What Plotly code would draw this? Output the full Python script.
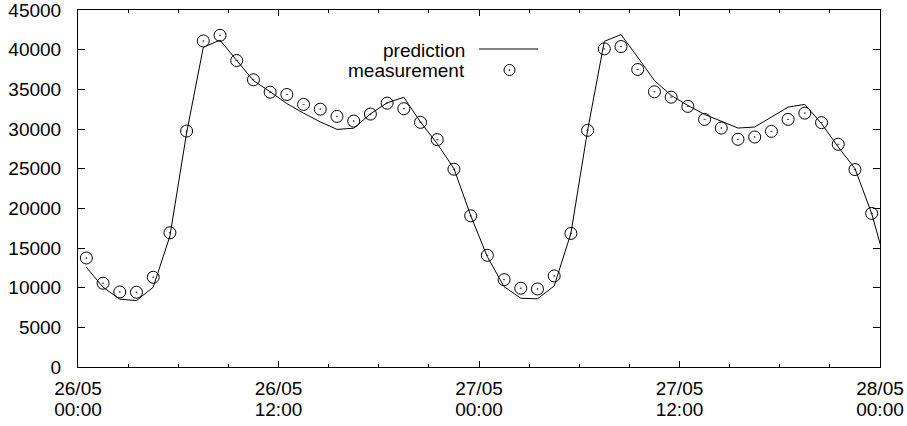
import pandas as pd
import plotly.graph_objects as go

# Hourly load, sampled at the half hour, 26/05 00:30 .. 27/05 23:30
measurement = [
    13740, 10560, 9460, 9430, 11310, 16920, 29740, 41100, 41810, 38630, 36200, 34640,
    34350, 33100, 32500, 31590, 31000, 31880, 33260, 32560, 30840, 28660, 24930, 19060,
    14080, 11010, 9930, 9840, 11480, 16840, 29830, 40100, 40390, 37500, 34690, 34010,
    32850, 31210, 30120, 28700, 28990, 29700, 31210, 32000, 30800, 28070, 24890, 19360,
]

# Model output on the same half-hour grid, one extra step past the window
prediction = [
    12570, 10060, 8550, 8370, 10060, 16500, 29500, 40300, 41200, 38700, 36100, 34700,
    33200, 32000, 30900, 29950, 30100, 31900, 33300, 34000, 30870, 28160, 25010, 19100,
    13900, 10130, 8670, 8590, 10220, 16840, 29830, 41050, 41900, 39040, 36110, 34230,
    32970, 31840, 31000, 30120, 30250, 31500, 32760, 33100, 30670, 27730, 25010, 19360,
    11800,
]

y_ticks = [0, 5000, 10000, 15000, 20000, 25000, 30000, 35000, 40000, 45000]
series_names = ["prediction", "measurement"]

t_meas = pd.date_range("2010-05-26 00:30", periods=len(measurement), freq="h")
t_pred = pd.date_range("2010-05-26 00:30", periods=len(prediction), freq="h")

X_RANGE = ["2010-05-26 00:00", "2010-05-28 00:00"]
DTICK = 12 * 3600 * 1000

FONT = "Liberation Sans, Arial, Helvetica, sans-serif"
FS = 19

fig = go.Figure()
fig.add_trace(go.Scatter(
    x=t_pred, y=prediction, mode="lines", name=series_names[0],
    line=dict(color="black", width=1), showlegend=False,
))
fig.add_trace(go.Scatter(
    x=t_meas, y=measurement, mode="markers", name=series_names[1],
    marker=dict(symbol="circle-open-dot", size=12, color="black",
                line=dict(color="black", width=1)),
    showlegend=False,
))
# empty trace so the second (time-of-day) x axis gets drawn
fig.add_trace(go.Scatter(x=[], y=[], xaxis="x2", yaxis="y", showlegend=False,
                         hoverinfo="skip"))

L, R, T, B = 78, 27, 10, 59
W, H = 907, 426
pw, ph = W - L - R, H - T - B


def px(x):
    return (x - L) / pw


def py(y):
    return (H - B - y) / ph


# key drawn in gnuplot style: text on the left, sample on the right
annotations = [
    dict(text=series_names[0], x=px(467), y=py(50), xref="paper", yref="paper",
         xanchor="right", yanchor="middle", showarrow=False,
         font=dict(family=FONT, size=FS, color="black")),
    dict(text=series_names[1], x=px(467), y=py(71), xref="paper", yref="paper",
         xanchor="right", yanchor="middle", showarrow=False,
         font=dict(family=FONT, size=FS, color="black")),
]
shapes = [
    dict(type="line", xref="paper", yref="paper", x0=px(479), x1=px(538),
         y0=py(49), y1=py(49), line=dict(color="black", width=1)),
    dict(type="circle", xref="paper", yref="paper", xsizemode="pixel", ysizemode="pixel",
         xanchor=px(509.5), yanchor=py(70), x0=-5.5, x1=5.5, y0=-5.5, y1=5.5,
         line=dict(color="black", width=1)),
    dict(type="circle", xref="paper", yref="paper", xsizemode="pixel", ysizemode="pixel",
         xanchor=px(509.5), yanchor=py(70), x0=-0.6, x1=0.6, y0=-0.6, y1=0.6,
         line=dict(color="black", width=0.6), fillcolor="black"),
]

tickfont = dict(family=FONT, size=FS, color="black")

fig.update_layout(
    width=W, height=H,
    margin=dict(l=L, r=R, t=T, b=B, pad=0, autoexpand=False),
    paper_bgcolor="white", plot_bgcolor="white",
    font=dict(family=FONT, size=FS, color="black"),
    annotations=annotations, shapes=shapes,
    # date line of the tick labels
    xaxis=dict(
        type="date", range=X_RANGE, tick0=X_RANGE[0], dtick=DTICK,
        tickformat="%d/%m",
        ticks="inside", ticklen=6, tickcolor="black", tickwidth=1,
        minor=dict(dtick=DTICK // 4, ticks="inside", ticklen=3,
                   tickcolor="black", tickwidth=1, showgrid=False),
        showline=True, linecolor="black", linewidth=1, mirror="ticks",
        showgrid=False, zeroline=False, automargin=False,
        ticklabelstandoff=4, ticklabeloverflow="allow", tickfont=tickfont,
    ),
    # time-of-day line of the tick labels, one row below
    xaxis2=dict(
        type="date", range=X_RANGE, tick0=X_RANGE[0], dtick=DTICK,
        tickformat="%H:%M", overlaying="x", side="bottom", anchor="y",
        ticks="", showline=False, showgrid=False, zeroline=False,
        automargin=False, ticklabelstandoff=29, ticklabeloverflow="allow",
        tickfont=tickfont,
    ),
    yaxis=dict(
        range=[0, 45000], tickvals=y_ticks, tickformat="d",
        ticks="inside", ticklen=7, tickcolor="black", tickwidth=1,
        showline=True, linecolor="black", linewidth=1, mirror="ticks",
        showgrid=False, zeroline=False, automargin=False,
        ticklabelstandoff=12, ticklabeloverflow="allow", tickfont=tickfont,
    ),
)

fig.write_html("out.html")
